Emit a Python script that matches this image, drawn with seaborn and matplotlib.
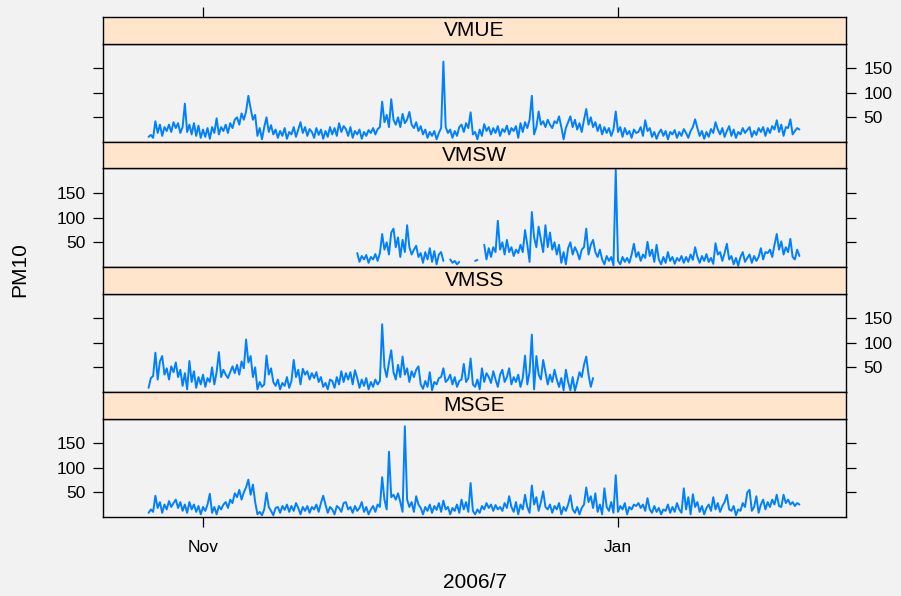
import numpy as np
import pandas as pd
import matplotlib
matplotlib.use("Agg")
import matplotlib.pyplot as plt
import seaborn as sns
from datetime import datetime

sns.set_style("white")
plt.rcParams["font.family"] = ["Liberation Sans", "DejaVu Sans"]
plt.rcParams["text.color"] = "black"
plt.rcParams["xtick.color"] = "black"
plt.rcParams["ytick.color"] = "black"
plt.rcParams["axes.labelcolor"] = "black"

# ---------------- data (PM10, one value every 8 hours from 2006-10-24) ----------------
series_start = "2006-10-24 00:00"
step_hours = 8

sites = ["VMUE", "VMSW", "VMSS", "MSGE"]

vmue = [
    10, 14, 8, 42, 18, 35, 12, 30, 22, 35, 20, 40, 28, 38, 18, 30, 78, 20, 35, 15, 38, 12, 33, 8, 25, 10, 28, 6, 30, 18,
    48, 15, 30, 22, 35, 18, 38, 28, 45, 50, 35, 58, 45, 62, 94, 68, 45, 55, 12, 28, 5, 30, 50, 20, 34, 15, 25, 8, 22, 12,
    28, 6, 20, 15, 30, 10, 25, 40, 18, 30, 12, 26, 20, 8, 28, 14, 25, 6, 22, 10, 30, 15, 28, 12, 38, 20, 32, 26, 12, 30,
    8, 22, 15, 25, 6, 20, 12, 24, 18, 28, 15, 26, 30, 82, 40, 55, 30, 87, 45, 35, 50, 30, 57, 38, 45, 61, 35, 28, 40, 22,
    32, 15, 25, 8, 20, 12, 22, 5, 18, 28, 164, 30, 18, 25, 8, 22, 12, 30, 35, 20, 38, 28, 60, 15, 20, 5, 25, 12, 36, 22,
    30, 15, 28, 18, 32, 12, 26, 20, 33, 15, 28, 22, 32, 8, 38, 20, 40, 28, 45, 94, 15, 30, 62, 35, 42, 30, 45, 35, 28, 42,
    38, 52, 30, 5, 28, 40, 52, 30, 45, 25, 38, 20, 45, 67, 35, 50, 30, 40, 22, 35, 15, 30, 18, 28, 12, 25, 62, 20, 30, 10,
    28, 15, 22, 8, 25, 18, 20, 30, 12, 44, 22, 28, 10, 20, 6, 18, 25, 12, 22, 5, 20, 15, 24, 8, 20, 12, 26, 18, 8, 22,
    30, 46, 28, 12, 22, 6, 20, 10, 26, 18, 40, 25, 15, 28, 10, 22, 32, 12, 25, 8, 20, 15, 28, 18, 24, 30, 10, 22, 14, 28,
    20, 30, 12, 28, 18, 32, 25, 44, 20, 35, 12, 30, 28, 46, 15, 22, 28, 25,
]

# VMSW starts later (step 92 = 2006-11-23 16:00) and has gaps (None)
vmsw_first_step = 92
vmsw = [
    28,
    10, 22, 15, 24, 8, 20, 15, 26, 12, 28, 67, 35, 50, 25, 70, 78, 40, 60, 20, 55, 30, 85, 40, 25, 35, 43, 20,
    28, 8, 30, 15, 38, 10, 32, 5, 25, 30, 12, None, None, 15, 8, 12, 5, 10, None, None, None, None, None, None,
    12, 14, None, None, 45, 15, 38, 20, 40, 30, 94, 35, 50, 25, 55, 30, 40, 22, 35, 28, 45, 30, 75, 45,
    10, 112, 60, 40, 82, 55, 30, 85, 40, 70, 35, 50, 25, 45, 8, 30, 5, 38, 50, 25, 40, 30, 15, 35,
    40, 78, 25, 45, 55, 30, 20, 35, 15, 5, 22, 12, 20, 3, 198, 12, 5, 20, 10, 18, 8, 25, 47, 20,
    30, 12, 25, 18, 51, 22, 35, 10, 45, 15, 5, 20, 8, 30, 12, 20, 6, 18, 12, 22, 8, 20, 10, 25,
    14, 40, 20, 8, 22, 12, 26, 10, 18, 6, 48, 25, 30, 12, 28, 47, 15, 22, 5, 18, 2, 20, 30, 10,
    18, 25, 8, 22, 12, 20, 38, 15, 30, 28, 35, 20, 45, 67, 35, 52, 25, 40, 30, 57, 20, 15, 35, 22,
]

vmss = [
    8, 28, 32, 80, 25, 62, 73, 35, 48, 25, 52, 40, 60, 30, 45, 12, 38, 5, 63, 20, 42, 8, 30, 15, 35, 10, 28, 20, 50, 15,
    40, 81, 30, 45, 35, 28, 40, 52, 38, 55, 35, 62, 48, 107, 60, 73, 30, 50, 5, 20, 10, 15, 74, 35, 48, 20, 12, 25, 5, 18,
    12, 30, 8, 22, 65, 30, 45, 15, 47, 35, 42, 25, 38, 28, 40, 20, 30, 10, 18, 5, 25, 22, 8, 30, 15, 42, 20, 38, 25, 40,
    15, 44, 28, 8, 25, 12, 28, 5, 20, 10, 25, 15, 22, 138, 50, 30, 60, 85, 40, 25, 55, 30, 72, 35, 48, 20, 42, 30, 45, 52,
    15, 6, 22, 10, 40, 3, 20, 15, 28, 30, 48, 20, 25, 35, 15, 30, 10, 22, 25, 57, 20, 28, 68, 15, 10, 25, 5, 48, 20, 38,
    30, 18, 42, 25, 10, 35, 45, 20, 30, 48, 15, 30, 20, 35, 10, 28, 74, 15, 40, 117, 5, 73, 35, 25, 65, 40, 15, 35, 20, 45,
    25, 10, 28, 3, 45, 20, 3, 30, 2, 20, 40, 30, 55, 72, 35, 10, 28,
]

msge = [
    8, 15, 10, 43, 18, 30, 8, 25, 15, 32, 20, 28, 35, 18, 30, 12, 25, 8, 30, 15, 25, 10, 22, 5, 20, 12, 25, 47, 8, 20,
    5, 22, 15, 25, 30, 18, 35, 28, 48, 40, 55, 35, 50, 60, 76, 45, 66, 30, 5, 10, 3, 15, 49, 20, 12, 3, 18, 20, 8, 22,
    14, 25, 10, 22, 12, 28, 18, 5, 20, 12, 22, 8, 20, 15, 25, 10, 28, 43, 25, 8, 20, 15, 5, 22, 18, 10, 28, 30, 15, 20,
    8, 22, 12, 18, 30, 10, 20, 5, 15, 22, 10, 25, 20, 81, 35, 15, 133, 40, 45, 35, 48, 30, 10, 185, 35, 20, 30, 10, 42, 25,
    18, 5, 20, 12, 25, 8, 22, 14, 28, 10, 33, 15, 20, 5, 18, 12, 25, 8, 35, 15, 30, 10, 69, 12, 5, 15, 8, 22, 15, 28,
    18, 25, 12, 24, 15, 20, 12, 28, 18, 42, 20, 10, 30, 5, 25, 15, 45, 20, 8, 64, 25, 40, 12, 30, 52, 20, 15, 25, 8, 22,
    15, 28, 5, 20, 12, 25, 44, 15, 8, 20, 5, 18, 25, 60, 30, 42, 18, 48, 10, 25, 5, 58, 20, 12, 30, 8, 85, 10, 22, 15,
    28, 5, 20, 15, 25, 22, 28, 18, 25, 12, 38, 15, 8, 22, 10, 18, 5, 15, 12, 25, 8, 20, 10, 28, 15, 8, 58, 15, 40, 5,
    46, 20, 30, 10, 22, 5, 18, 25, 12, 40, 15, 28, 10, 22, 30, 45, 15, 12, 22, 3, 15, 12, 28, 20, 50, 55, 12, 20, 42, 8,
    25, 35, 15, 30, 20, 35, 25, 45, 22, 20, 45, 28, 35, 25, 30, 22, 28, 25,
]

first_steps = {"VMUE": 0, "VMSW": vmsw_first_step, "VMSS": 0, "MSGE": 0}
values = {"VMUE": vmue, "VMSW": vmsw, "VMSS": vmss, "MSGE": msge}

tick_dates = [datetime(2006, 11, 1), datetime(2007, 1, 1)]
tick_labels = ["Nov", "Jan"]
y_ticks = [50, 100, 150]

# ---------------- build long table ----------------
frames = []
t0 = pd.Timestamp(series_start)
for s in sites:
    v = np.array([np.nan if x is None else x for x in values[s]], dtype=float)
    steps = first_steps[s] + np.arange(len(v))
    times = t0 + pd.to_timedelta(steps * step_hours, unit="h")
    seg = np.cumsum(np.isnan(v))
    df = pd.DataFrame({"time": times, "PM10": v, "seg": seg, "site": s})
    frames.append(df.dropna())
data = pd.concat(frames, ignore_index=True)

# ---------------- layout (lattice-like) ----------------
W, H = 901, 596
BG = "#F2F2F2"
STRIP = "#FFE5CC"
LINE = "#0080FF"
fig = plt.figure(figsize=(W / 100, H / 100), dpi=100, facecolor=BG)

left_px, right_px = 103, 846
top_px = 17
panel_px = 125
strip_px = 26.5

xlim = (datetime(2006, 10, 17, 7, 12), datetime(2007, 2, 3, 12, 15))
ylim = (-0.5, 201)

def fx(px):
    return px / W

def fy(px):
    return 1 - px / H

tick_kw = dict(direction="out", length=7.5, width=0.9, color="black",
               labelcolor="black", labelsize=12.5, pad=5)

for i, s in enumerate(sites):
    top = top_px + i * panel_px
    # plot axes
    ax = fig.add_axes([fx(left_px), fy(top + panel_px), fx(right_px - left_px), (panel_px - strip_px) / H])
    ax.set_facecolor(BG)
    sub = data[data["site"] == s]
    sns.lineplot(data=sub, x="time", y="PM10", units="seg", estimator=None,
                 color=LINE, linewidth=1.4, ax=ax, legend=False)
    ax.set_xlim(*xlim)
    ax.set_ylim(*ylim)
    ax.set_xlabel("")
    ax.set_ylabel("")
    ax.set_yticks(y_ticks)
    ax.set_yticklabels([str(t) for t in y_ticks])
    right_labels = i in (0, 2)
    ax.tick_params(axis="y", left=True, right=True, labelleft=not right_labels,
                   labelright=right_labels, **tick_kw)
    ax.set_xticks(tick_dates)
    ax.set_xticklabels(tick_labels)
    last = i == len(sites) - 1
    ax.tick_params(axis="x", bottom=last, top=False, labelbottom=last, labeltop=False, **tick_kw)
    if last:
        ax.tick_params(axis="x", pad=9)
    for sp in ax.spines.values():
        sp.set_color("black")
        sp.set_linewidth(1.0)

    # strip axes
    sax = fig.add_axes([fx(left_px), fy(top + strip_px), fx(right_px - left_px), strip_px / H])
    sax.set_facecolor(STRIP)
    sax.set_xlim(*xlim)
    sax.set_ylim(0, 1)
    sax.set_yticks([])
    if i == 0:
        sax.set_xticks(tick_dates)
        sax.tick_params(axis="x", top=True, bottom=False, labeltop=False, labelbottom=False, **tick_kw)
    else:
        sax.set_xticks([])
    for sp in sax.spines.values():
        sp.set_color("black")
        sp.set_linewidth(1.0)
    sax.text(0.5, 0.5, s, transform=sax.transAxes, ha="center", va="center",
             fontsize=15, color="black")

fig.text(fx(20), fy(270), "PM10", rotation=90, ha="center", va="center", fontsize=15, color="black")
fig.text(fx(474.5), fy(582), "2006/7", ha="center", va="center", fontsize=15, color="black")

fig.savefig("out.png", dpi=100, facecolor=BG)
